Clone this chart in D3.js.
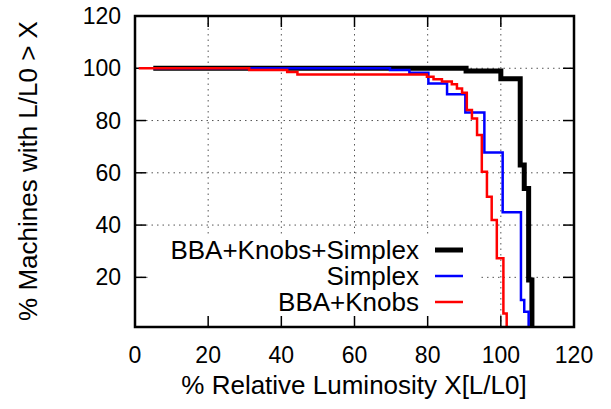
<!DOCTYPE html>
<html>
<head>
<meta charset="utf-8">
<script src="https://cdn.jsdelivr.net/npm/d3@7"></script>
<style>
  body { margin: 0; background: #fff; }
  text { font-family: "Liberation Sans", Arial, sans-serif; fill: #000; }
</style>
</head>
<body>
<svg id="chart" width="611" height="409"></svg>
<script>
var xTicks = [0, 20, 40, 60, 80, 100, 120];
var yTicks = [20, 40, 60, 80, 100, 120];

var seriesNames = ["BBA+Knobs+Simplex", "Simplex", "BBA+Knobs"];
var seriesColors = ["#000000", "#0000ff", "#ff0000"];

// step points: x = luminosity where the step happens, y = value after it
var fullX = [5, 90.5, 100, 105.3, 106.4, 107.6, 108.5];
var fullY = [100, 99, 96, 63, 54, 19, 0];

var simplexX = [5, 69.7, 75, 80.2, 85.3, 90.3, 95.5, 100.5, 105.5, 106.4, 107.6];
var simplexY = [100, 99.3, 98.3, 94.2, 90.1, 83.1, 67.8, 44.9, 11.3, 6.8, 0];

var knobsX = [1, 31.2, 41.6, 44.4, 79.8, 81.6, 83.9, 86.6, 88.0, 89.4, 90.7, 92.1, 93.5, 94.8, 96.2, 97.5, 98.9, 100.7, 101.6];
var knobsY = [100, 99.3, 98.6, 97.6, 96.8, 95.8, 94.9, 93.9, 92.3, 90.6, 84.0, 80.8, 74.5, 60.4, 50.8, 41.9, 27.3, 6.2, 0];

var svg = d3.select("#chart");
var pLeft = 135, pRight = 574, pTop = 16, pBottom = 327;

var x = d3.scaleLinear().domain([0, 120]).range([pLeft, pRight]);
var y = d3.scaleLinear().domain([1, 120]).range([pBottom, pTop]);

svg.append("clipPath").attr("id", "plotClip")
  .append("rect")
  .attr("x", pLeft).attr("y", pTop)
  .attr("width", pRight - pLeft).attr("height", pBottom - pTop);

// grid
var grid = svg.append("g")
  .attr("stroke", "#555")
  .attr("stroke-width", 1)
  .attr("stroke-dasharray", "1.5,4");

grid.selectAll(".gx").data(xTicks.filter(d => d > 0 && d < 120)).enter().append("line")
  .attr("x1", d => x(d)).attr("x2", d => x(d))
  .attr("y1", pBottom).attr("y2", pTop);

grid.selectAll(".gy").data(yTicks.filter(d => d < 120)).enter().append("line")
  .attr("x1", pLeft).attr("x2", pRight)
  .attr("y1", d => y(d)).attr("y2", d => y(d));

// legend background hides the grid
svg.append("rect")
  .attr("x", 150)
  .attr("y", 236)
  .attr("width", 329)
  .attr("height", pBottom - 236)
  .attr("fill", "#fff");

// axes, ticks inward and mirrored
var tickLen = 11;
var axes = svg.append("g").attr("stroke", "#000").attr("stroke-width", 1.5);

axes.selectAll(".tb").data(xTicks).enter().append("line")
  .attr("x1", d => x(d)).attr("x2", d => x(d))
  .attr("y1", pBottom).attr("y2", pBottom - tickLen);
axes.selectAll(".tt").data(xTicks).enter().append("line")
  .attr("x1", d => x(d)).attr("x2", d => x(d))
  .attr("y1", pTop).attr("y2", pTop + tickLen);
axes.selectAll(".tl").data(yTicks).enter().append("line")
  .attr("x1", pLeft).attr("x2", pLeft + tickLen)
  .attr("y1", d => y(d)).attr("y2", d => y(d));
axes.selectAll(".tr").data(yTicks).enter().append("line")
  .attr("x1", pRight).attr("x2", pRight - tickLen)
  .attr("y1", d => y(d)).attr("y2", d => y(d));

// data
var line = d3.line()
  .x(d => x(d[0]))
  .y(d => y(d[1]))
  .curve(d3.curveStepAfter);

var series = [
  {name: seriesNames[0], color: seriesColors[0], width: 5, pts: d3.zip(fullX, fullY)},
  {name: seriesNames[1], color: seriesColors[1], width: 2.5, pts: d3.zip(simplexX, simplexY)},
  {name: seriesNames[2], color: seriesColors[2], width: 2.5, pts: d3.zip(knobsX, knobsY)}
];

svg.append("g").attr("clip-path", "url(#plotClip)")
  .selectAll("path").data(series).enter().append("path")
  .attr("d", d => line(d.pts))
  .attr("fill", "none")
  .attr("stroke", d => d.color)
  .attr("stroke-width", d => d.width);

// frame
svg.append("rect")
  .attr("x", pLeft).attr("y", pTop)
  .attr("width", pRight - pLeft).attr("height", pBottom - pTop)
  .attr("fill", "none")
  .attr("stroke", "#000")
  .attr("stroke-width", 2.5);

// tick labels
svg.selectAll(".xl").data(xTicks).enter().append("text")
  .attr("x", d => x(d))
  .attr("y", 363)
  .attr("text-anchor", "middle")
  .style("font-size", "23px")
  .text(d => d);

svg.selectAll(".yl").data(yTicks).enter().append("text")
  .attr("x", 121)
  .attr("y", d => y(d) + 8)
  .attr("text-anchor", "end")
  .style("font-size", "23px")
  .text(d => d);

// axis titles
svg.append("text")
  .attr("x", 354)
  .attr("y", 394)
  .attr("text-anchor", "middle")
  .style("font-size", "26px")
  .text("% Relative Luminosity X[L/L0]");

svg.append("text")
  .attr("transform", "translate(37,171) rotate(-90)")
  .attr("text-anchor", "middle")
  .style("font-size", "26px")
  .text("% Machines with L/L0 > X");

// legend
var legend = svg.selectAll(".key").data(series).enter().append("g")
  .attr("transform", (d, i) => "translate(0," + (250 + i * 26) + ")");

legend.append("text")
  .attr("x", 419)
  .attr("y", 9)
  .attr("text-anchor", "end")
  .style("font-size", "26px")
  .text(d => d.name);

legend.append("line")
  .attr("x1", 435).attr("x2", 463)
  .attr("y1", 0).attr("y2", 0)
  .attr("stroke", d => d.color)
  .attr("stroke-width", d => d.width);
</script>
</body>
</html>
